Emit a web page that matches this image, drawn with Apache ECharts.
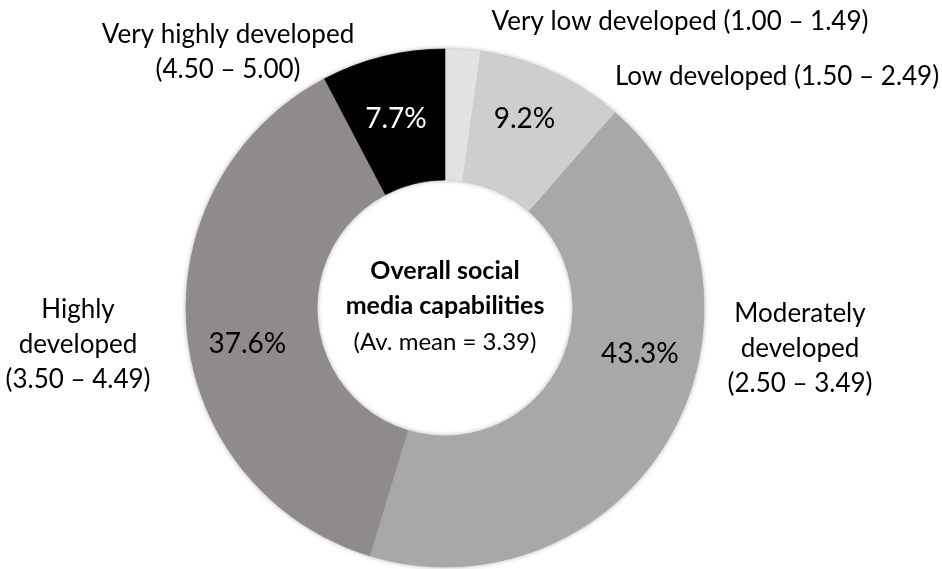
<!DOCTYPE html>
<html>
<head>
<meta charset="utf-8">
<script src="https://cdn.jsdelivr.net/npm/echarts@6/dist/echarts.min.js"></script>
<style>
html,body{margin:0;padding:0;background:#fff;}
#main{width:942px;height:569px;}
</style>
</head>
<body>
<div id="main"></div>
<script>
// Data
var categories = ['Very low developed', 'Low developed', 'Moderately developed', 'Highly developed', 'Very highly developed'];
var ranges = ['(1.00 \u2013 1.49)', '(1.50 \u2013 2.49)', '(2.50 \u2013 3.49)', '(3.50 \u2013 4.49)', '(4.50 \u2013 5.00)'];
var shares = [2.2, 9.2, 43.3, 37.6, 7.7];
var centerLines = ['Overall social', 'media capabilities', '(Av. mean = 3.39)'];

// Styles
var colors = ['#e2e2e2', '#cfcdce', '#a8a8a8', '#8e8b8a', '#000000'];
var pctColors = ['#000', '#000', '#000', '#000', '#fff'];
var FONT = 'Lato, "Open Sans", sans-serif';
var nameBreaks = [' ', ' ', '\n', '\n', '\n'];
var namePos = [
  {x: 680, y: 22},
  {x: 777, y: 77},
  {x: 800, y: 349},
  {x: 78, y: 345},
  {x: 228, y: 52}
];
var pctOffset = [{dx:0,dy:0},{dx:-2,dy:-10},{dx:23,dy:-49},{dx:-2,dy:17},{dx:-2,dy:2}];

function nameText(i) {
  var n = categories[i];
  if (i === 2 || i === 3) n = n.replace(' ', '\n');
  return n + nameBreaks[i] + ranges[i];
}

var chart = echarts.init(document.getElementById('main'));
var data = categories.map(function (c, i) {
  return {
    name: c,
    value: shares[i],
    itemStyle: {color: colors[i], borderColor: colors[i], borderWidth: 0.6},
    label: {color: pctColors[i], show: i !== 0}
  };
});
var nameData = categories.map(function (c, i) {
  return {name: c, value: shares[i], itemStyle: {opacity: 0, borderWidth: 0}};
});

chart.setOption({
  animation: false,
  series: [
    { // category names, placed outside the ring (sectors invisible, kept underneath)
      type: 'pie',
      center: [445, 308],
      radius: [128, 259],
      startAngle: 90,
      silent: true,
      z: 0,
      data: nameData,
      emphasis: {disabled: true},
      label: {
        position: 'outside',
        formatter: function (p) { return nameText(p.dataIndex); },
        fontFamily: FONT,
        fontSize: 26,
        lineHeight: 35,
        color: '#000',
        opacity: 1,
        align: 'center',
        overflow: 'none',
        width: 500
      },
      labelLine: {show: false},
      labelLayout: function (p) {
        var q = namePos[p.dataIndex];
        return {x: q.x, y: q.y, align: 'center', verticalAlign: 'middle'};
      }
    },
    { // soft shadow ring behind the doughnut
      type: 'pie',
      center: [445, 308],
      radius: [128, 259],
      silent: true,
      z: 1,
      data: [{value: 1, name: ''}],
      itemStyle: {color: '#a8a8a8', borderWidth: 0, shadowBlur: 5, shadowColor: 'rgba(0,0,0,0.35)'},
      label: {show: false},
      labelLine: {show: false},
      emphasis: {disabled: true}
    },
    {
      type: 'pie',
      center: [445, 308],
      radius: [128, 259],
      startAngle: 90,
      clockwise: true,
      silent: true,
      padAngle: 0,
      z: 2,
      data: data,
      label: {
        position: 'inside',
        formatter: function (p) { return p.value.toFixed(1) + '%'; },
        fontFamily: FONT,
        fontSize: 28,
        textBorderWidth: 0,
        overflow: 'none'
      },
      labelLine: {show: false},
      emphasis: {disabled: true},
      labelLayout: function (p) {
        return {dx: pctOffset[p.dataIndex].dx, dy: pctOffset[p.dataIndex].dy};
      }
    }
  ],
  graphic: [
    {
      type: 'text',
      x: 445,
      y: 288,
      z: 10,
      style: {
        text: centerLines[0] + '\n' + centerLines[1],
        font: 'bold 25px ' + FONT,
        lineHeight: 35,
        textAlign: 'center',
        textVerticalAlign: 'middle',
        fill: '#000'
      }
    },
    {
      type: 'text',
      x: 445,
      y: 342,
      z: 10,
      style: {
        text: centerLines[2],
        font: '24px ' + FONT,
        textAlign: 'center',
        textVerticalAlign: 'middle',
        fill: '#000'
      }
    }
  ]
});
</script>
</body>
</html>
